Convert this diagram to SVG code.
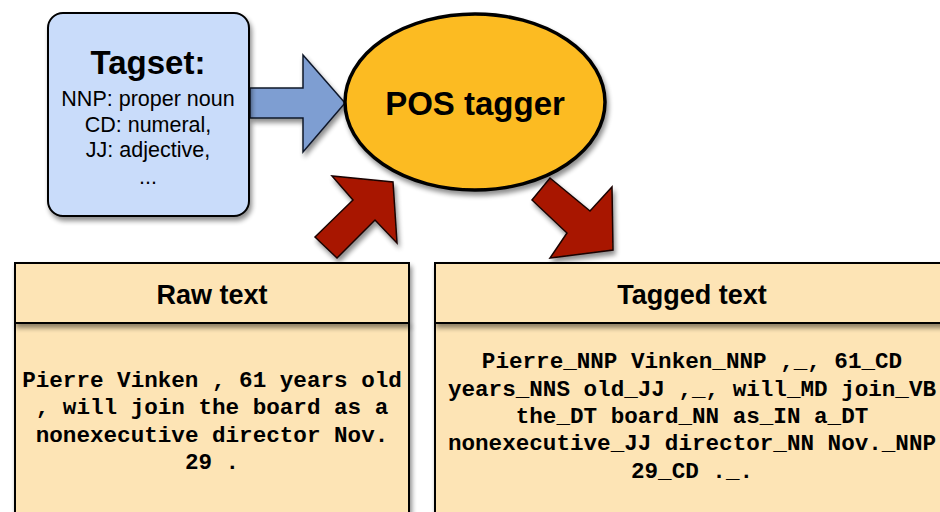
<svg xmlns="http://www.w3.org/2000/svg" width="940" height="512" viewBox="0 0 940 512">
<defs>
<filter id="sh" x="-20%" y="-20%" width="150%" height="150%">
<feGaussianBlur in="SourceAlpha" stdDeviation="2.5"/>
<feOffset dx="2" dy="4" result="b"/>
<feComponentTransfer><feFuncA type="linear" slope="0.45"/></feComponentTransfer>
<feMerge><feMergeNode/><feMergeNode in="SourceGraphic"/></feMerge>
</filter>
<style>
.sans{font-family:"Liberation Sans",Arial,sans-serif;fill:#000;text-anchor:middle}
.b{font-weight:bold}
.mono{font-family:"Liberation Mono","Courier New",monospace;font-weight:bold;font-size:22.6px;text-anchor:middle;fill:#000}
.box{fill:#fde4b5;stroke:#000;stroke-width:2}
.red{fill:#a81800;stroke:#1a0500;stroke-width:1.5;stroke-linejoin:miter}
</style>
</defs>
<rect width="940" height="512" fill="#fff"/>
<g id="connectors">
<polygon filter="url(#sh)" points="250,88 303,88 303,55 345,103 303,152 303,118 250,118" fill="#7e9ed2" stroke="#10182a" stroke-width="1.5"/>
<polygon class="red" filter="url(#sh)" points="315,237 353,200 332,176 393,182 397,243 375,220 337,258"/>
<polygon class="red" filter="url(#sh)" points="550,178 590,211 612,187 613,250 550,258 567,233 532,200"/>
</g>
<g id="tagset">
<rect x="48" y="13" width="201" height="203" rx="15" ry="15" fill="#c9dcfa" stroke="#000" stroke-width="2" filter="url(#sh)"/>
<text class="sans b" x="148" y="74" font-size="33">Tagset:</text>
<text class="sans" x="148" y="106" font-size="21.5">NNP: proper noun</text>
<text class="sans" x="148" y="132" font-size="21.5">CD: numeral,</text>
<text class="sans" x="148" y="157" font-size="21.5">JJ: adjective,</text>
<text class="sans" x="148" y="184" font-size="21.5">...</text>
</g>
<g id="pos-tagger">
<ellipse cx="475" cy="102" rx="130" ry="88" fill="#fcbb23" stroke="#000" stroke-width="3.5" filter="url(#sh)"/>
<text class="sans b" x="475" y="115" font-size="33">POS tagger</text>
</g>
<g id="raw-text">
<rect class="box" x="15" y="323" width="394" height="200" filter="url(#sh)"/>
<rect class="box" x="15" y="263" width="394" height="60" filter="url(#sh)"/>
<text class="sans b" x="212" y="304" font-size="27">Raw text</text>
<text class="mono" x="212" y="387">Pierre Vinken , 61 years old</text>
<text class="mono" x="212" y="414">, will join the board as a</text>
<text class="mono" x="212" y="442">nonexecutive director Nov.</text>
<text class="mono" x="212" y="469">29 .</text>
</g>
<g id="tagged-text">
<rect class="box" x="435" y="323" width="514" height="200" filter="url(#sh)"/>
<rect class="box" x="435" y="263" width="514" height="60" filter="url(#sh)"/>
<text class="sans b" x="692" y="304" font-size="27">Tagged text</text>
<text class="mono" x="692" y="368">Pierre_NNP Vinken_NNP ,_, 61_CD</text>
<text class="mono" x="692" y="396">years_NNS old_JJ ,_, will_MD join_VB</text>
<text class="mono" x="692" y="423">the_DT board_NN as_IN a_DT</text>
<text class="mono" x="692" y="450">nonexecutive_JJ director_NN Nov._NNP</text>
<text class="mono" x="692" y="478">29_CD ._.</text>
</g>
</svg>
